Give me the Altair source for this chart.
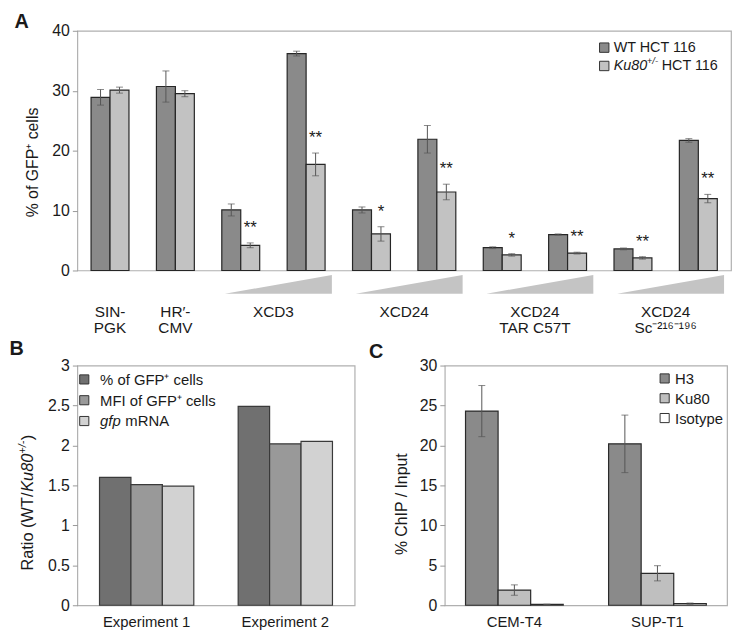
import altair as alt
import pandas as pd

FONT = "Liberation Sans"
INK = "#1a1a1a"
ERR = "#555555"

# ---------------- Panel A data ----------------
a_groups = ["SIN-PGK", "HR'-CMV", "XCD3 low", "XCD3 high", "XCD24 low", "XCD24 high",
            "TAR low", "TAR high", "Sc low", "Sc high"]
a_series = ["WT HCT 116", "Ku80+/- HCT 116"]
a_wt = [28.9, 30.7, 10.1, 36.2, 10.1, 21.9, 3.8, 6.0, 3.6, 21.7]
a_wt_err = [1.3, 2.6, 1.0, 0.4, 0.5, 2.3, 0.15, 0.1, 0.15, 0.3]
a_ku = [30.1, 29.5, 4.2, 17.7, 6.1, 13.1, 2.6, 2.9, 2.1, 12.0]
a_ku_err = [0.5, 0.5, 0.4, 1.9, 1.2, 1.3, 0.2, 0.15, 0.2, 0.7]
a_stars = ["", "", "**", "**", "*", "**", "*", "**", "**", "**"]
a_single_labels = ["SIN-\nPGK", "HR\u2032-\nCMV"]
a_single_at = ["SIN-PGK", "HR'-CMV"]
a_pair_labels = ["XCD3", "XCD24", "XCD24\nTAR C57T", "XCD24\nSc\u207b\u00b2\u00b9\u2076\u207b\u00b9\u2079\u2076"]
a_pair_at = ["XCD3 low", "XCD24 low", "TAR low", "Sc low"]
a_wedge_at = ["XCD3 high", "XCD24 high", "TAR high", "Sc high"]
a_yticks = [0, 5, 10, 15, 20, 25, 30, 35, 40]
a_colors = ["#8a8a8a", "#c2c2c2"]

# ---------------- Panel B data ----------------
b_groups = ["Experiment 1", "Experiment 2"]
b_series = ["% of GFP\u207a cells", "MFI of GFP\u207a cells", "gfp mRNA"]
b_pct = [1.60, 2.49]
b_mfi = [1.51, 2.02]
b_mrna = [1.49, 2.05]
b_yticks = [0, 0.5, 1, 1.5, 2, 2.5, 3]
b_colors = ["#707070", "#999999", "#d2d2d2"]

# ---------------- Panel C data ----------------
c_groups = ["CEM-T4", "SUP-T1"]
c_series = ["H3", "Ku80", "Isotype"]
c_h3 = [24.3, 20.2]
c_h3_err = [3.2, 3.6]
c_ku80 = [1.9, 4.0]
c_ku80_err = [0.65, 0.95]
c_iso = [0.1, 0.2]
c_iso_err = [0.03, 0.08]
c_yticks = [0, 5, 10, 15, 20, 25, 30]
c_colors = ["#8a8a8a", "#bfbfbf", "#ffffff"]


def text_piece(text, x, y, size=15, style="normal", weight="normal", angle=0,
               align="left", baseline="middle"):
    return alt.Chart(pd.DataFrame({"t": [text]})).mark_text(
        font=FONT, fontSize=size, fontStyle=style, fontWeight=weight, angle=angle,
        align=align, baseline=baseline, color=INK
    ).encode(x=alt.value(x), y=alt.value(y), text="t:N")


def swatch(color, x, y, size=85):
    return alt.Chart(pd.DataFrame({"t": [0]})).mark_square(
        size=size, fill=color, stroke="#333333", strokeWidth=1, opacity=1
    ).encode(x=alt.value(x), y=alt.value(y))


def y_axis(values, fmt=None):
    kw = dict(values=values, title=None, tickSize=5, labelPadding=3, domain=False,
              labelFontSize=16, labelFont=FONT, labelColor=INK, tickColor="#999999")
    if fmt:
        kw["format"] = fmt
    return alt.Axis(**kw)


def x_axis():
    return alt.Axis(title=None, ticks=False, domain=False, labelAngle=0, labelPadding=9,
                    labelFontSize=15, labelFont=FONT, labelColor=INK)


def band_width(width, n, p_inner, p_outer):
    step = width / (n - p_inner + 2 * p_outer)
    return step * (1 - p_inner)


def series_layers(groups, values, errors, x_enc, y_scale, offset, bar_w, color, stroke, y_axis_def=None):
    """Bars (+ optional error bars) for one series, shifted inside each group band."""
    df = pd.DataFrame({"group": groups, "value": values})
    yenc = alt.Y("value:Q", scale=y_scale, axis=y_axis_def) if y_axis_def is not None else \
        alt.Y("value:Q", scale=y_scale, title=None)
    layers = [alt.Chart(df).mark_bar(
        width=bar_w, xOffset=offset, fill=color, stroke=stroke, strokeWidth=1.2, opacity=1
    ).encode(x=x_enc, y=yenc)]
    if errors is not None:
        df["lo"] = [v - e for v, e in zip(values, errors)]
        df["hi"] = [v + e for v, e in zip(values, errors)]
        base = alt.Chart(df)
        layers.append(base.mark_rule(color=ERR, strokeWidth=1, xOffset=offset).encode(
            x=x_enc, y=alt.Y("lo:Q", scale=y_scale, title=None), y2="hi:Q"))
        for fld in ["lo", "hi"]:
            layers.append(base.mark_tick(color=ERR, thickness=1, size=7, xOffset=offset).encode(
                x=x_enc, y=alt.Y(f"{fld}:Q", scale=y_scale, title=None)))
    return layers


# ---------------- Panel A ----------------
WA, PIA, POA = 660, 0.42, 0.21
BWA = band_width(WA, 10, PIA, POA) / 2
xA = alt.X("group:N", sort=a_groups,
           scale=alt.Scale(domain=a_groups, paddingInner=PIA, paddingOuter=POA), axis=None)
ysA = alt.Scale(domain=[0, 40], nice=False)

layersA = []
layersA += series_layers(a_groups, a_wt, a_wt_err, xA, ysA, -BWA / 2, BWA, a_colors[0], "#262626",
                         y_axis(a_yticks))
layersA += series_layers(a_groups, a_ku, a_ku_err, xA, ysA, BWA / 2, BWA, a_colors[1], "#262626")

df_st = pd.DataFrame({"group": a_groups, "star": a_stars,
                      "hi": [v + e for v, e in zip(a_ku, a_ku_err)]})
df_st = df_st[df_st["star"] != ""]
starsA = alt.Chart(df_st).mark_text(
    font=FONT, fontSize=17, baseline="alphabetic", dx=BWA / 2, dy=-10, color=INK
).encode(x=xA, y=alt.Y("hi:Q", scale=ysA, title=None), text="star:N")

wedgesA = alt.Chart(pd.DataFrame({"group": a_wedge_at})).mark_point(
    shape="M-1,0.176L1,0.176L1,-0.176Z", size=108 ** 2, filled=True, fill="#c4c4c4",
    strokeWidth=0, opacity=1, xOffset=-28
).encode(x=xA, y=alt.value(256))

singleLab = alt.Chart(pd.DataFrame({"group": a_single_at, "label": a_single_labels})).mark_text(
    font=FONT, fontSize=15.5, align="center", baseline="top", lineBreak="\n", lineHeight=16, color=INK
).encode(x=xA, y=alt.value(277), text="label:N")
pairLab = alt.Chart(pd.DataFrame({"group": a_pair_at, "label": a_pair_labels})).mark_text(
    font=FONT, fontSize=15.5, align="center", baseline="top", lineBreak="\n", lineHeight=16,
    dx=33, color=INK
).encode(x=xA, y=alt.value(277), text="label:N")

legA = [
    swatch(a_colors[0], 532, 17, 90),
    swatch(a_colors[1], 532, 35.5, 90),
    text_piece("WT HCT 116", 541.5, 17.5, 14.5),
    text_piece("Ku80", 541.5, 36, 14.5, style="italic"),
    text_piece("+/-", 575, 31, 9.5, style="italic"),
    text_piece("HCT 116", 590, 36, 14.5),
]
titleA = [
    text_piece("A", -63.5, -19, 20, weight="bold", baseline="top"),
    text_piece("%  of GFP\u207a cells", -45, 133, 16, angle=270, align="center"),
]

panelA = alt.layer(
    *layersA, starsA, wedgesA, singleLab, pairLab, *legA, *titleA
).properties(width=WA, height=242)

# ---------------- Panel B ----------------
WB, PIB, POB = 280, 0.32, 0.16
BWB = band_width(WB, 2, PIB, POB) / 3
xB = alt.X("group:N", sort=b_groups,
           scale=alt.Scale(domain=b_groups, paddingInner=PIB, paddingOuter=POB), axis=x_axis())
ysB = alt.Scale(domain=[0, 3], nice=False)
layersB = []
for i, (vals, col) in enumerate(zip([b_pct, b_mfi, b_mrna], b_colors)):
    layersB += series_layers(b_groups, vals, None, xB, ysB, (i - 1) * BWB, BWB, col, "#3a3a3a",
                             y_axis(b_yticks, ".1~f") if i == 0 else None)
legB = [
    swatch(b_colors[0], 7, 14),
    swatch(b_colors[1], 7, 35),
    swatch(b_colors[2], 7, 56),
    text_piece(b_series[0], 23, 14.5, 15),
    text_piece(b_series[1], 23, 35.5, 15),
    text_piece("gfp", 23, 56.5, 15, style="italic"),
    text_piece("mRNA", 48.5, 56.5, 15),
]
titleB = [
    text_piece("B", -68.5, -26.5, 20, weight="bold", baseline="top"),
    text_piece("Ratio (WT/", -49.5, 207, 16.5, angle=270),
    text_piece("Ku80", -49.5, 127.5, 16.5, angle=270, style="italic"),
    text_piece("+/-", -55, 89, 11, angle=270, style="italic"),
    text_piece(")", -49.5, 75.5, 16.5, angle=270),
]
panelB = alt.layer(*layersB, *legB, *titleB).properties(width=WB, height=242)

# ---------------- Panel C ----------------
WC, PIC, POC = 285, 0.317, 0.145
BWC = band_width(WC, 2, PIC, POC) / 3
xC = alt.X("group:N", sort=c_groups,
           scale=alt.Scale(domain=c_groups, paddingInner=PIC, paddingOuter=POC), axis=x_axis())
ysC = alt.Scale(domain=[0, 30], nice=False)
layersC = []
for i, (vals, errs, col) in enumerate(zip([c_h3, c_ku80, c_iso], [c_h3_err, c_ku80_err, c_iso_err], c_colors)):
    layersC += series_layers(c_groups, vals, errs, xC, ysC, (i - 1) * BWC, BWC, col, "#2a2a2a",
                             y_axis(c_yticks) if i == 0 else None)
legC = [
    swatch(c_colors[0], 222, 13),
    swatch(c_colors[1], 222, 33),
    swatch(c_colors[2], 222, 53),
    text_piece(c_series[0], 232.5, 13.5, 15),
    text_piece(c_series[1], 232.5, 33.5, 15),
    text_piece(c_series[2], 232.5, 53.5, 15),
]
titleC = [
    text_piece("C", -76.5, -24, 20, weight="bold", baseline="top"),
    text_piece("% ChIP / Input", -43, 140, 16, angle=270, align="center"),
]
panelC = alt.layer(*layersC, *legC, *titleC).properties(width=WC, height=242)

chart = alt.vconcat(
    alt.hconcat(panelA),
    alt.hconcat(panelB, panelC, spacing=12),
    spacing=0,
).properties(
    padding={"left": 0, "top": 0, "right": 0, "bottom": 0}
).configure_view(
    stroke="#b0b0b0", strokeWidth=1.2
).configure_axis(
    grid=False
)

chart.save("out.html", embed_options={"renderer": "svg", "actions": False})
